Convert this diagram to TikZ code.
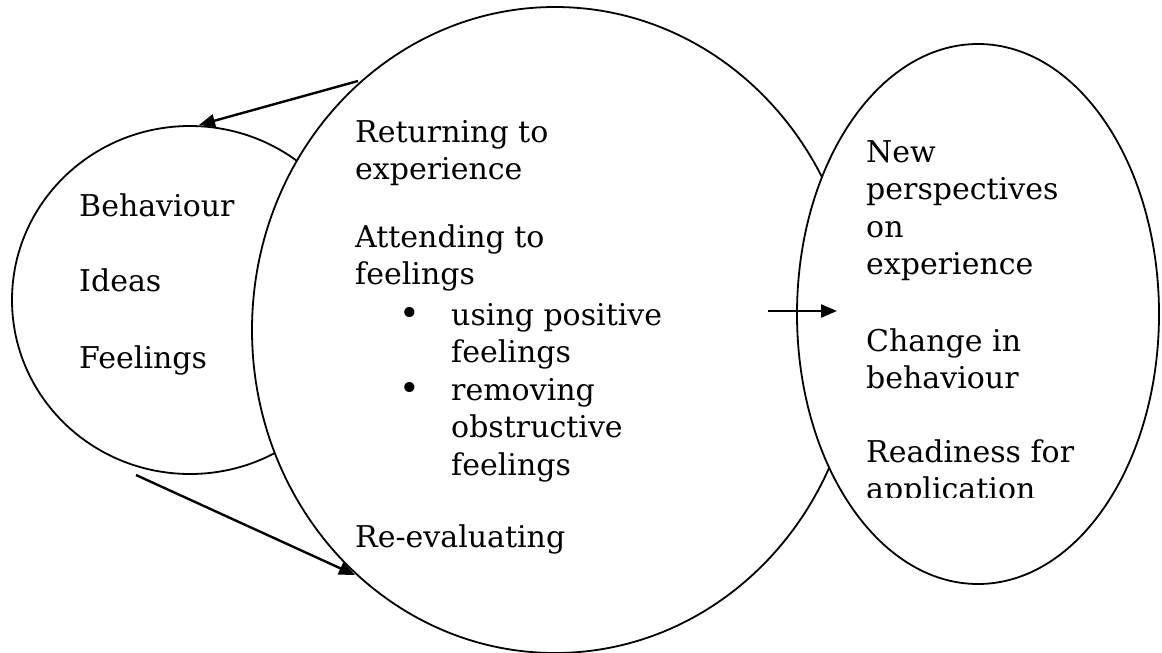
\documentclass[tikz,border=0pt]{standalone}
\usepackage{fontspec}
\setmainfont{DejaVu Serif}
\usetikzlibrary{shapes.geometric,arrows.meta}
\begin{document}
\begin{tikzpicture}[x=1pt,y=-1pt,
  ring/.style={draw, ellipse, line width=1.8pt, inner sep=0pt, outer sep=0pt, fill=white},
  flow/.style={line width=2.4pt, -{Triangle[length=16pt,width=13pt]}},
  para/.style={anchor=base west, inner sep=0pt, font=\fontsize{30}{37.5}\selectfont},
  dot/.style={anchor=base, inner sep=0pt, font=\fontsize{35}{37.5}\selectfont},
]
\useasboundingbox (0,0) rectangle (1162,653);

% the three regions, later ones covering the earlier outlines
\node[ring, minimum width=356pt, minimum height=348pt] (self) at (190,300) {};
\node[ring, minimum width=606pt, minimum height=646pt] (reflect) at (555,330) {};
\node[ring, minimum width=362pt, minimum height=540pt] (outcome) at (978,314) {};

% connectors
\coordinate (topFrom) at (358,81);
\coordinate (topTo) at (199,125);
\coordinate (lowFrom) at (136,475);
\coordinate (lowTo) at (355,575);
\coordinate (midFrom) at (768,311);
\coordinate (midTo) at (837,311);
\draw[flow] (topFrom) -- (topTo);
\draw[flow] (lowFrom) -- (lowTo);
\draw[flow] (midFrom) -- (midTo);

% left circle
\node[para] (behaviour) at (79,216) {Behaviour};
\node[para] (ideas) at (79,291) {Ideas};
\node[para] (feelings) at (79,368) {Feelings};

% middle circle
\node[para] (returning) at (355,142) {\begin{tabular}[t]{@{}l@{}}Returning to\\ experience\end{tabular}};
\node[para] (attending) at (355,247) {\begin{tabular}[t]{@{}l@{}}Attending to\\ feelings\end{tabular}};
\node[dot] (dotA) at (410,325) {•};
\node[para] (positive) at (451,325) {\begin{tabular}[t]{@{}l@{}}using positive\\ feelings\end{tabular}};
\node[dot] (dotB) at (410,400) {•};
\node[para] (removing) at (451,400) {\begin{tabular}[t]{@{}l@{}}removing\\ obstructive\\ feelings\end{tabular}};
\node[para] (reeval) at (355,547) {Re-evaluating};

% right ellipse
\node[para] (perspectives) at (866,162) {\begin{tabular}[t]{@{}l@{}}New\\ perspectives\\ on\\ experience\end{tabular}};
\node[para] (change) at (866,351) {\begin{tabular}[t]{@{}l@{}}Change in\\ behaviour\end{tabular}};
\begin{scope}
  \clip (800,400) rectangle (1162,497);
  \node[para] (readiness) at (866,462) {\begin{tabular}[t]{@{}l@{}}Readiness for\\ application\end{tabular}};
\end{scope}
\end{tikzpicture}
\end{document}
